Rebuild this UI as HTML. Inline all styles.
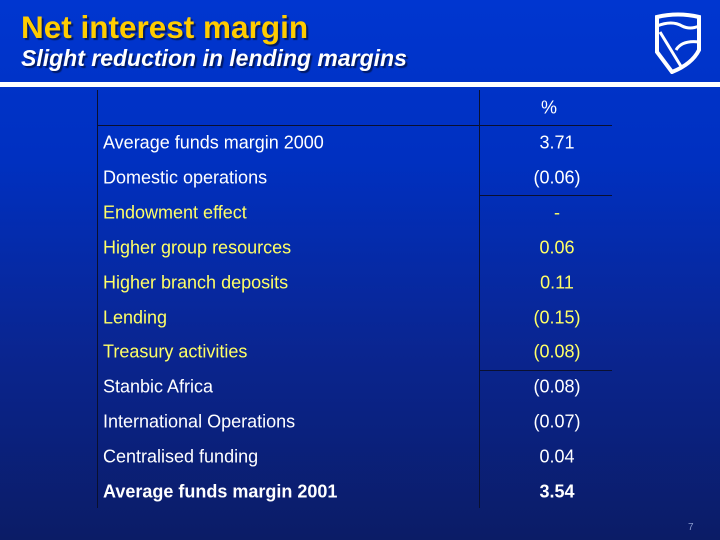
<!DOCTYPE html>
<html><head><meta charset="utf-8"><style>
html,body{margin:0;padding:0}
body{width:720px;height:540px;overflow:hidden;position:relative;font-family:"Liberation Sans",sans-serif;
background:linear-gradient(180deg,#0036d0 0%,#0030c0 30%,#0a2590 65%,#0b1c66 100%)}
.t{position:absolute;white-space:nowrap}
.lbl{position:absolute;left:103px;font-size:18px;color:#fff;transform:translateY(-50%);white-space:nowrap}
.val{position:absolute;left:500px;width:114px;text-align:center;font-size:18px;color:#fff;transform:translateY(-50%)}
.y{color:#ffff66}
.b{font-weight:bold}
.ln{position:absolute;background:#0a1030}
</style></head><body>
<div class="t" style="left:21px;top:9px;font-size:31.5px;font-weight:bold;color:#ffcc00;text-shadow:2px 2px 1px #001a66">Net interest margin</div>
<div class="t" style="left:21px;top:45px;font-size:23px;font-weight:bold;font-style:italic;color:#fff;text-shadow:2px 2px 1px #001a66">Slight reduction in lending margins</div>
<svg style="position:absolute;left:652px;top:12px" width="52" height="62" viewBox="0 0 52 62">
<path d="M5 5 Q26 0 47 5 L47 38 Q40 52 20 60 L5 40 Z" fill="none" stroke="#fff" stroke-width="4"/>
<path d="M5 14 Q20 8 30 14 Q38 18 47 14" fill="none" stroke="#fff" stroke-width="3"/>
<path d="M8 20 L30 56 M47 30 Q30 28 24 38" fill="none" stroke="#fff" stroke-width="3"/>
</svg>
<div style="position:absolute;left:0;top:82px;width:720px;height:5px;background:#fff"></div>
<div class="ln" style="left:97px;top:90px;width:1px;height:418px"></div>
<div class="ln" style="left:479px;top:90px;width:1px;height:418px"></div>
<div class="ln" style="left:97px;top:125px;width:515px;height:1px"></div>
<div class="ln" style="left:479px;top:195px;width:133px;height:1px"></div>
<div class="ln" style="left:479px;top:370px;width:133px;height:1px"></div>
<div class="val" style="top:108px;left:492px">%</div>
<div id="rows"></div>
<div class="t" style="left:688px;top:522px;font-size:10px;color:#8899cc">7</div>
<script>
const labels=["Average funds margin 2000","Domestic operations","Endowment effect","Higher group resources","Higher branch deposits","Lending","Treasury activities","Stanbic Africa","International Operations","Centralised funding","Average funds margin 2001"];
const values=["3.71","(0.06)","-","0.06","0.11","(0.15)","(0.08)","(0.08)","(0.07)","0.04","3.54"];
const yellow=[0,0,1,1,1,1,1,0,0,0,0];
const bold=[0,0,0,0,0,0,0,0,0,0,1];
const c=document.getElementById('rows');
labels.forEach((l,i)=>{
 const y=143+i*34.9;
 const a=document.createElement('div');
 a.className='lbl'+(yellow[i]?' y':'')+(bold[i]?' b':'');
 a.style.top=y+'px';a.textContent=l;
 
 
 c.appendChild(a);
 const v=document.createElement('div');
 v.className='val'+(yellow[i]?' y':'')+(bold[i]?' b':'');
 v.style.top=y+'px';v.textContent=values[i];
 
 
 c.appendChild(v);
});
</script>
</body></html>
